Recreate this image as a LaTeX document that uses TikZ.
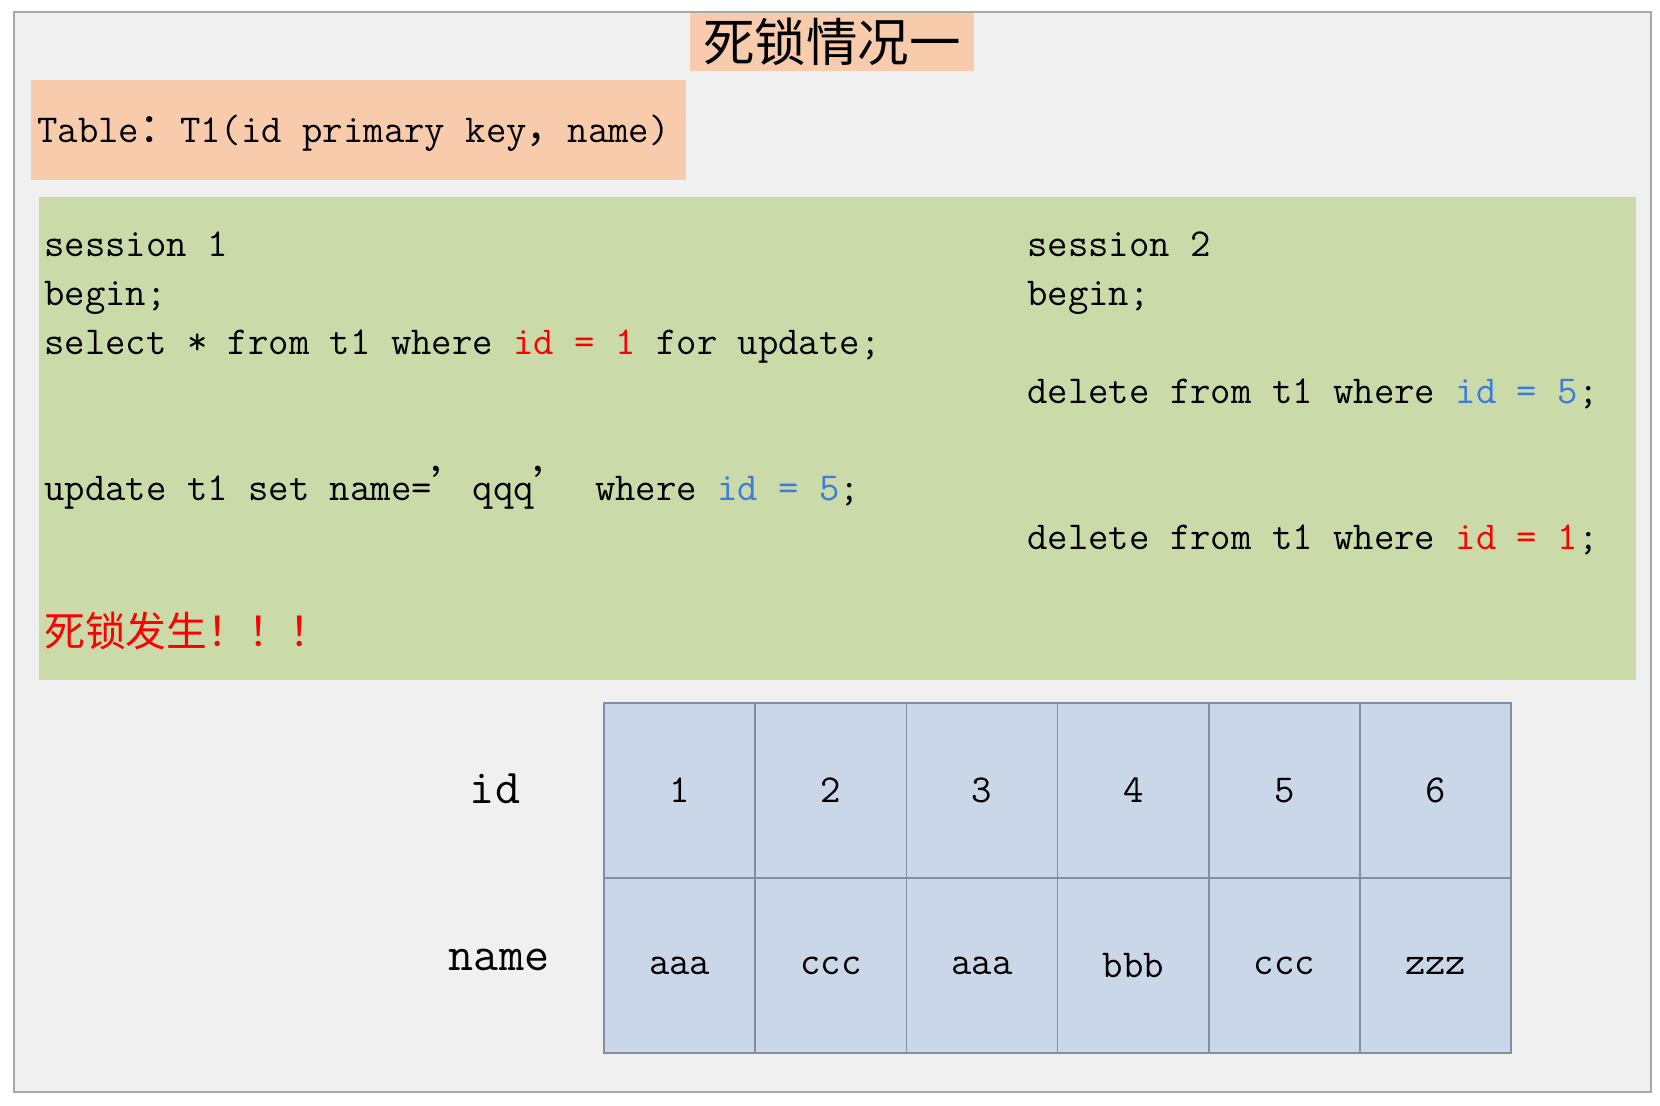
\documentclass[tikz,border=0pt]{standalone}
\usepackage{fontspec}
\usepackage{xcolor}
\newfontfamily\cjk[Scale=1.03]{Noto Sans CJK SC}
\newcommand\fw[1]{\makebox[2\fontcharwd\font`x][l]{\cjk #1}}
\newcommand\codefont{\ttfamily\fontsize{19.8}{23}\selectfont}
\definecolor{peach}{HTML}{F8CBAD}
\definecolor{sqlgreen}{HTML}{CADBA9}
\definecolor{cellblue}{HTML}{C9D7E8}
\definecolor{cellline}{HTML}{7F8FA6}
\definecolor{lockred}{HTML}{FF0000}
\definecolor{lockblue}{HTML}{3B7DD8}
\definecolor{framegray}{HTML}{A6A6A6}
\definecolor{pagegray}{HTML}{F0F0F0}

\begin{document}
\begin{tikzpicture}[x=0.5pt, y=-0.5pt,
  code/.style={anchor=base west, inner sep=0pt, font=\codefont},
  cell/.style={draw=cellline, fill=cellblue, line width=0.8pt, minimum width=75.6pt,
    minimum height=87.5pt, inner sep=0pt, font=\codefont},
  rowlabel/.style={font=\ttfamily\fontsize{24.3}{28}\selectfont}]

\useasboundingbox (0,0) rectangle (1660,1106);
\fill[white] (0,0) rectangle (1660,1106);
\draw[framegray, line width=1pt, fill=pagegray] (14,12) rectangle (1651,1092);

\node (title) [fill=peach, minimum width=142pt, minimum height=29pt, inner sep=0pt,
  font=\fontsize{25}{28}\selectfont\cjk] at (832,42) {死锁情况一};
\node (tablebox) [fill=peach, anchor=north west, minimum width=327.5pt,
  minimum height=50pt, inner sep=0pt] at (31,80) {};
\node (tabledef) [code] at (37,142.5) {Table\fw{：}T1(id primary key\fw{，}name)};
\node (sqlbox) [fill=sqlgreen, anchor=north west, minimum width=798.5pt,
  minimum height=241.5pt, inner sep=0pt] at (39,197) {};

% session 1
\node (s1title) [code] at (44,257) {session 1};
\node (s1begin) [code] at (44,305.7) {begin;};
\node (s1select) [code] at (44,354.4)
  {select * from t1 where \textcolor{lockred}{id = 1} for update;};
\node (s1update) [code] at (44,500.5)
  {update t1 set name=\fw{’}qqq\fw{’} where \textcolor{lockblue}{id = 5};};
\node (deadlock) [code, text=lockred] at (44,646.6) {\cjk 死锁发生！！！};

% session 2
\node (s2title) [code] at (1027,257) {session 2};
\node (s2begin) [code] at (1027,305.7) {begin;};
\node (s2delfive) [code] at (1027,403.1)
  {delete from t1 where \textcolor{lockblue}{id = 5};};
\node (s2delone) [code] at (1027,549.2)
  {delete from t1 where \textcolor{lockred}{id = 1};};

% rows of t1
\node (idlabel) [rowlabel] at (495,789) {id};
\node (namelabel) [rowlabel] at (499,960) {name};
\foreach \v [count=\i] in {1,...,6}
  \node (id\i) [cell] at ({679.6+151.2*(\i-1)},790.5) {\v};
\foreach \n [count=\i] in {aaa,ccc,aaa,bbb,ccc,zzz}
  \node (name\i) [cell] at ({679.6+151.2*(\i-1)},965.5) {\n};

\end{tikzpicture}
\end{document}
